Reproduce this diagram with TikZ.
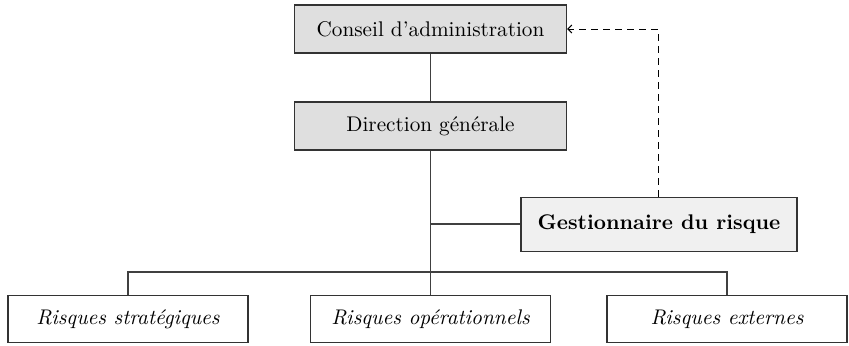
\documentclass[tikz,border=0pt]{standalone}
\usepackage{fontspec}
\usetikzlibrary{arrows.meta}
\begin{document}
\begin{tikzpicture}[x=0.5pt,y=-0.5pt,
  every node/.style={font=\fontsize{10.6}{12.7}\selectfont},
  topbox/.style={draw=black!80, fill=gray!25, line width=0.6pt, minimum width=136pt, minimum height=24pt, inner sep=0pt},
  riskbox/.style={draw=black!80, fill=gray!12, line width=0.6pt, minimum width=138pt, minimum height=27pt, inner sep=0pt, font=\fontsize{10.6}{12.7}\selectfont\bfseries},
  leafbox/.style={draw=black!80, fill=white, line width=0.6pt, minimum width=120pt, minimum height=23.5pt, inner sep=0pt, font=\fontsize{10.6}{12.7}\selectfont\itshape},
  link/.style={draw=black!75, line width=0.6pt},
  dlink/.style={draw=black, line width=0.5pt, dash pattern=on 3.5pt off 2.5pt, -{Straight Barb[length=2pt,width=4pt]}}]
\useasboundingbox (0,0) rectangle (849,345);
\node[topbox] (ca) at (430.5,29) {Conseil d'administration};
\node[topbox] (dg) at (430.5,126) {Direction générale};
\node[riskbox] (gr) at (659,224.5) {Gestionnaire du risque};
\node[leafbox] (rs) at (128,319) {Risques stratégiques};
\node[leafbox] (ro) at (430.5,319) {Risques opérationnels};
\node[leafbox] (re) at (727,319) {Risques externes};
\coordinate (bus) at (430.5,272);
\coordinate (tee) at (430.5,224);
\coordinate (corner) at (658,29);
\draw[link] (ca) -- (dg);
\draw[link] (dg.south) -- (bus);
\draw[link] (tee) -- (gr.west |- tee);
\draw[link] (rs.north) |- (bus) -| (re.north);
\draw[link] (bus) -- (ro.north);
\draw[dlink] (gr.north -| corner) -- (corner) -- (ca.east);
\end{tikzpicture}
\end{document}
